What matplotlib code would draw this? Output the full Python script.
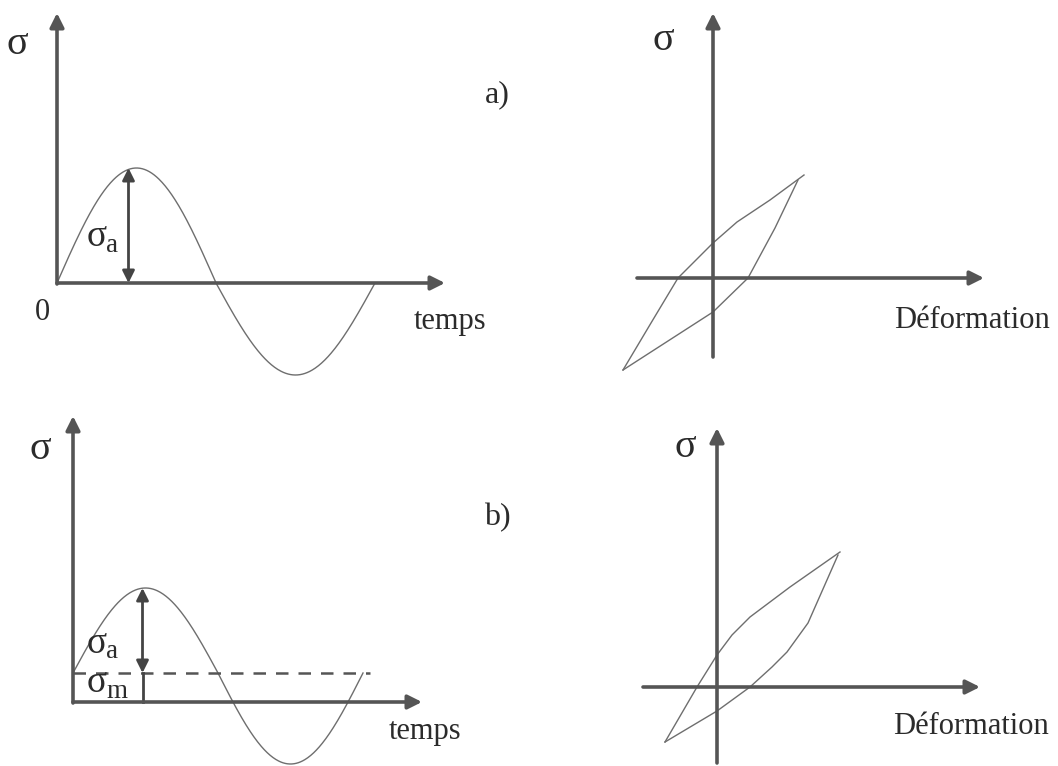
import numpy as np
import matplotlib.pyplot as plt

plt.rcParams['font.family'] = ['Liberation Serif', 'DejaVu Serif']

# stress signals (stress units, time in the same units)
period_a = 3.18
amp_up_a, amp_down_a = 1.15, 0.92
period_b = 2.90
mean_b = 0.29
amp_up_b, amp_down_b = 0.85, 0.91

# hysteresis loops, (strain, stress) along each branch
loop_a_upper_x = [-0.90, -0.62, -0.35, 0.00, 0.24, 0.57, 0.91]
loop_a_upper_y = [-0.92, -0.45, 0.00, 0.35, 0.56, 0.78, 1.03]
loop_a_lower_x = [-0.90, 0.00, 0.35, 0.62, 0.85]
loop_a_lower_y = [-0.92, -0.34, 0.00, 0.50, 0.98]
loop_b_upper_x = [-0.52, -0.20, 0.00, 0.15, 0.33, 0.73, 1.23]
loop_b_upper_y = [-0.55, 0.00, 0.32, 0.52, 0.70, 1.00, 1.35]
loop_b_lower_x = [-0.52, 0.00, 0.33, 0.55, 0.70, 0.91, 1.21]
loop_b_lower_y = [-0.55, -0.24, 0.00, 0.20, 0.35, 0.64, 1.32]

W, H = 1058, 766
PX = 100.0  # pixels per unit
AXC = '#555555'
CURVE = '#6e6e6e'
TXT = '#2b2b2b'

fig = plt.figure(figsize=(W / 100, H / 100), dpi=100)


def panel(ox, oy):
    # full-figure axes with its origin at pixel (ox, oy), counted from top-left
    ax = fig.add_axes([0, 0, 1, 1])
    ax.set_xlim(-ox / PX, (W - ox) / PX)
    ax.set_ylim((oy - H) / PX, oy / PX)
    ax.axis('off')
    ax.patch.set_alpha(0)
    return ax


def axis_arrow(ax, x0, y0, x1, y1):
    ax.annotate('', xy=(x1, y1), xytext=(x0, y0),
                arrowprops=dict(arrowstyle='-|>', lw=2.6, color=AXC,
                                mutation_scale=21, shrinkA=0, shrinkB=0))


def stress_arrow(ax, x, y0, y1):
    ax.annotate('', xy=(x, y1), xytext=(x, y0),
                arrowprops=dict(arrowstyle='<|-|>', lw=2.0, color='#444444',
                                mutation_scale=18, shrinkA=0, shrinkB=0))


def sigma_sub(ax, x, y, sub, size=27):
    ax.text(x, y, 'σ', fontsize=size, color=TXT, ha='center', va='center')
    ax.text(x + 0.09, y - 0.08, sub, fontsize=size * 0.72, color=TXT,
            ha='left', va='center')


def signal(period, mean, up, down):
    t = np.linspace(0, period, 400)
    s = np.sin(2 * np.pi * t / period)
    return t, mean + np.where(s > 0, up, down) * s


# a) fully reversed stress vs time
ax = panel(57, 283)
t, s = signal(period_a, 0.0, amp_up_a, amp_down_a)
ax.plot(t, s, color=CURVE, lw=1.0)
axis_arrow(ax, 0, -0.01, 0, 2.70)
axis_arrow(ax, 0, 0, 3.88, 0)
tp = period_a / 4 - 0.08
stress_arrow(ax, tp, 0, amp_up_a)
ax.text(-0.40, 2.38, 'σ', fontsize=29, color=TXT, ha='center', va='center')
ax.text(-0.15, -0.29, '0', fontsize=22, color=TXT, ha='center', va='center')
ax.text(3.93, -0.39, 'temps', fontsize=22, color=TXT, ha='center', va='center')
ax.text(4.40, 1.88, 'a)', fontsize=23, color=TXT, ha='center', va='center')
sigma_sub(ax, 0.40, 0.46, 'a')

# a) loop
ax = panel(713, 278)
ax.plot(loop_a_upper_x, loop_a_upper_y, color=CURVE, lw=1.0)
ax.plot(loop_a_lower_x, loop_a_lower_y, color=CURVE, lw=1.0)
axis_arrow(ax, 0, -0.79, 0, 2.65)
axis_arrow(ax, -0.76, 0, 2.71, 0)
ax.text(-0.50, 2.38, 'σ', fontsize=29, color=TXT, ha='center', va='center')
ax.text(2.59, -0.42, 'Déformation', fontsize=22, color=TXT, ha='center', va='center')

# b) stress with a mean value
ax = panel(73, 702)
t, s = signal(period_b, mean_b, amp_up_b, amp_down_b)
ax.plot(t, s, color=CURVE, lw=1.0)
ax.plot([0, period_b + 0.07], [mean_b, mean_b], color=AXC, lw=1.8, dashes=(5, 4))
axis_arrow(ax, 0, -0.01, 0, 2.86)
axis_arrow(ax, 0, 0, 3.49, 0)
tp = period_b / 4 - 0.03
stress_arrow(ax, tp, mean_b, mean_b + amp_up_b)
ax.plot([tp, tp], [0, mean_b], color='#444444', lw=2.0)
ax.text(-0.33, 2.52, 'σ', fontsize=29, color=TXT, ha='center', va='center')
ax.text(3.52, -0.30, 'temps', fontsize=22, color=TXT, ha='center', va='center')
ax.text(4.24, 1.84, 'b)', fontsize=23, color=TXT, ha='center', va='center')
sigma_sub(ax, 0.24, 0.58, 'a')
sigma_sub(ax, 0.24, 0.19, 'm')

# b) loop
ax = panel(717, 687)
ax.plot(loop_b_upper_x, loop_b_upper_y, color=CURVE, lw=1.0)
ax.plot(loop_b_lower_x, loop_b_lower_y, color=CURVE, lw=1.0)
axis_arrow(ax, 0, -0.76, 0, 2.59)
axis_arrow(ax, -0.74, 0, 2.63, 0)
ax.text(-0.32, 2.40, 'σ', fontsize=29, color=TXT, ha='center', va='center')
ax.text(2.54, -0.40, 'Déformation', fontsize=22, color=TXT, ha='center', va='center')

fig.savefig('out.png', dpi=100, facecolor='white')
